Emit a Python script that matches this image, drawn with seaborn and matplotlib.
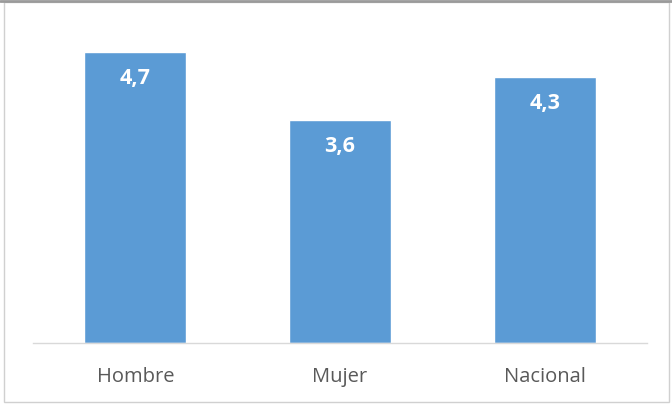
import matplotlib
matplotlib.use("Agg")
import matplotlib.pyplot as plt
import seaborn as sns
import pandas as pd
from matplotlib.patches import Rectangle
from matplotlib.lines import Line2D

categories = ["Hombre", "Mujer", "Nacional"]
values = [4.7, 3.6, 4.3]
labels = ["4,7", "3,6", "4,3"]

sns.set_style("white")
plt.rcParams["font.family"] = ["Open Sans", "DejaVu Sans"]

df = pd.DataFrame({"grupo": categories, "valor": values})

fig = plt.figure(figsize=(6.72, 4.04), dpi=100)
ax = fig.add_axes([0.049, 0.151, 0.914, 0.765])
sns.barplot(data=df, x="grupo", y="valor", color="#5B9BD5", saturation=1,
            width=0.5, ax=ax)

for i, (v, lab) in enumerate(zip(values, labels)):
    ax.text(i, v - 0.42, lab, ha="center", va="center", color="white",
            fontsize=15.5, fontweight="bold")

ax.set_xlim(-0.5, 2.5)
ax.set_ylim(0, 5)
ax.set_xlabel("")
ax.set_ylabel("")
ax.set_yticks([])
for s in ["top", "right", "left"]:
    ax.spines[s].set_visible(False)
ax.spines["bottom"].set_color("#d9d9d9")
ax.spines["bottom"].set_linewidth(1)
ax.tick_params(axis="x", length=0, pad=17, labelsize=14.5, labelcolor="#595959")

# outer frame of the chart
fig.patches.append(Rectangle((0.006, 0.004), 0.99, 0.99, transform=fig.transFigure,
                             fill=False, edgecolor="#d0d0d0", linewidth=1))
fig.lines.append(Line2D([0, 1], [0.997, 0.997], transform=fig.transFigure,
                        color="#9a9a9a", linewidth=2))

fig.savefig("out.png", dpi=100)
